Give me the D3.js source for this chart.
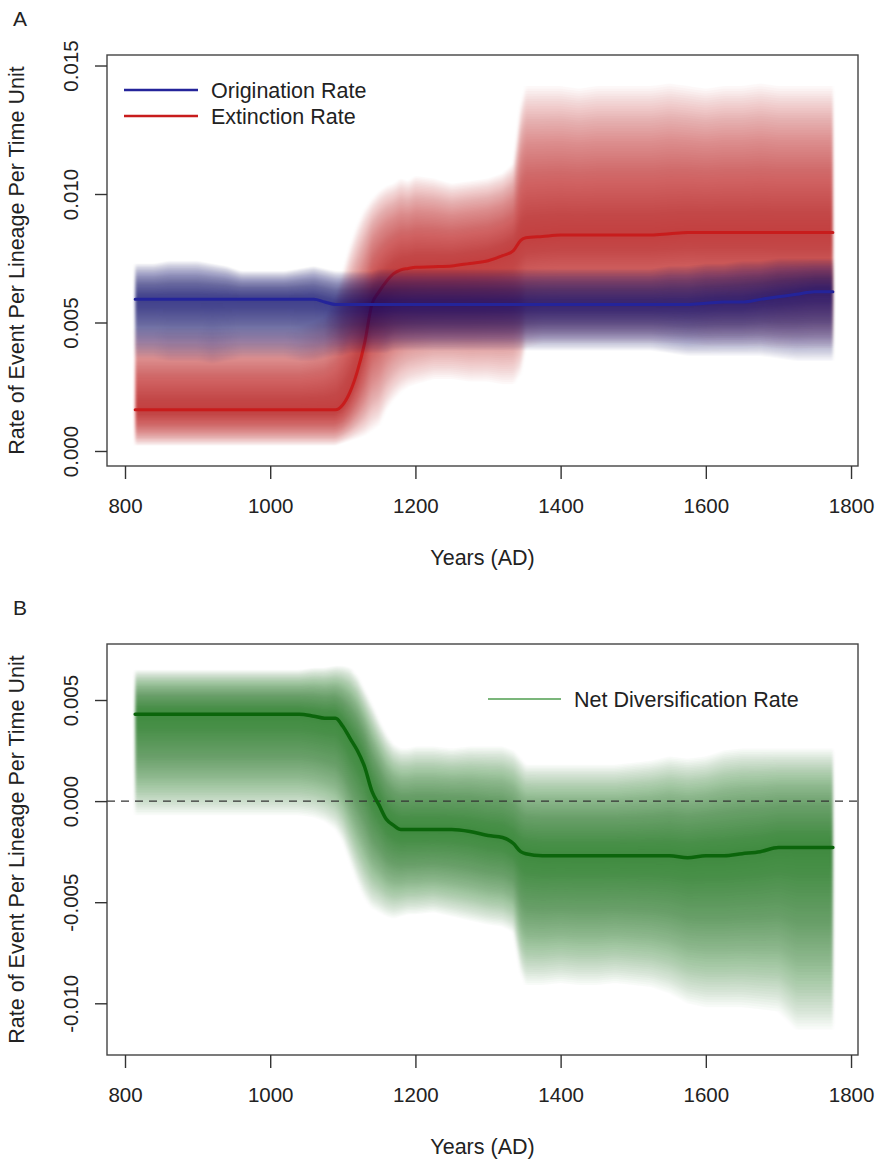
<!DOCTYPE html>
<html lang="en">
<head>
<meta charset="UTF-8">
<title>Rates through time</title>
<script src="https://d3js.org/d3.v7.min.js"></script>
<style>
  body { margin: 0; background: #fff; }
  svg { font-family: "Liberation Sans", Arial, Helvetica, sans-serif; }
</style>
</head>
<body>
<svg></svg>
<script>
// time slices (years AD)
const years = [814, 840, 860, 880, 900, 920, 940, 960, 980, 1000,
  1020, 1040, 1060, 1075, 1090, 1100, 1110, 1120, 1130, 1140,
  1150, 1160, 1170, 1180, 1190, 1200, 1225, 1250, 1275, 1300,
  1320, 1335, 1345, 1352, 1375, 1400, 1425, 1450, 1475, 1500,
  1525, 1550, 1575, 1600, 1625, 1650, 1675, 1700, 1725, 1750,
  1775];

// origination rate: median and outer interval
const origMed = [0.0059, 0.0059, 0.0059, 0.0059, 0.0059, 0.0059, 0.0059, 0.0059, 0.0059, 0.0059,
  0.0059, 0.0059, 0.0059, 0.0058, 0.0057, 0.0057, 0.0057, 0.0057, 0.0057, 0.0057,
  0.0057, 0.0057, 0.0057, 0.0057, 0.0057, 0.0057, 0.0057, 0.0057, 0.0057, 0.0057,
  0.0057, 0.0057, 0.0057, 0.0057, 0.0057, 0.0057, 0.0057, 0.0057, 0.0057, 0.0057,
  0.0057, 0.0057, 0.0057, 0.00575, 0.0058, 0.0058, 0.0059, 0.0060, 0.0061, 0.0062,
  0.0062];
const origLo = [0.0036, 0.0036, 0.0035, 0.0035, 0.0035, 0.0034, 0.0035, 0.0036, 0.0036, 0.0036,
  0.0036, 0.0035, 0.0035, 0.0036, 0.0037, 0.0037, 0.0038, 0.0038, 0.0038, 0.0038,
  0.0038, 0.0038, 0.0039, 0.0039, 0.0039, 0.0039, 0.0039, 0.0039, 0.0039, 0.0039,
  0.0039, 0.0039, 0.0039, 0.0039, 0.0039, 0.0039, 0.0039, 0.0039, 0.0039, 0.0039,
  0.0039, 0.0038, 0.0037, 0.0037, 0.0037, 0.0037, 0.0037, 0.0036, 0.0035, 0.0035,
  0.0035];
const origHi = [0.0073, 0.0073, 0.0074, 0.0074, 0.0074, 0.0073, 0.0072, 0.0070, 0.0070, 0.0070,
  0.0070, 0.0071, 0.0072, 0.0071, 0.0070, 0.0070, 0.0070, 0.0070, 0.0070, 0.0070,
  0.0071, 0.0071, 0.0071, 0.0071, 0.0071, 0.0071, 0.0071, 0.0071, 0.0071, 0.0071,
  0.0071, 0.0071, 0.0071, 0.0071, 0.0071, 0.0071, 0.0071, 0.0071, 0.0071, 0.0071,
  0.0071, 0.0072, 0.0072, 0.0073, 0.0073, 0.0074, 0.0074, 0.0075, 0.0075, 0.0075,
  0.0075];

// extinction rate
const extMed = [0.0016, 0.0016, 0.0016, 0.0016, 0.0016, 0.0016, 0.0016, 0.0016, 0.0016, 0.0016,
  0.0016, 0.0016, 0.0016, 0.0016, 0.0016, 0.0018, 0.0023, 0.0031, 0.0042, 0.0057,
  0.0062, 0.0066, 0.0069, 0.00705, 0.0071, 0.00715, 0.00717, 0.0072, 0.0073, 0.0074,
  0.0076, 0.0078, 0.0082, 0.0083, 0.00835, 0.0084, 0.0084, 0.0084, 0.0084, 0.0084,
  0.0084, 0.00845, 0.0085, 0.0085, 0.0085, 0.0085, 0.0085, 0.0085, 0.0085, 0.0085,
  0.0085];
const extLo = [0.0002, 0.0002, 0.0002, 0.0002, 0.0002, 0.0002, 0.0002, 0.0002, 0.0002, 0.0002,
  0.0002, 0.0002, 0.0002, 0.0002, 0.0002, 0.0003, 0.0004, 0.0005, 0.0006, 0.0008,
  0.0010, 0.0016, 0.0020, 0.0023, 0.0025, 0.0026, 0.0028, 0.0028, 0.0027, 0.0027,
  0.0026, 0.0026, 0.0030, 0.0040, 0.0042, 0.0042, 0.0042, 0.0042, 0.0042, 0.0042,
  0.0042, 0.0042, 0.0042, 0.0041, 0.0041, 0.0041, 0.0041, 0.0040, 0.0040, 0.0040,
  0.0040];
const extHi = [0.0048, 0.0048, 0.0048, 0.0048, 0.0048, 0.0048, 0.0048, 0.0048, 0.0048, 0.0048,
  0.0048, 0.0048, 0.0050, 0.0052, 0.0060, 0.0070, 0.0080, 0.0088, 0.0094, 0.0098,
  0.0101, 0.0103, 0.0104, 0.0106, 0.0105, 0.0107, 0.0106, 0.0104, 0.0105, 0.0106,
  0.0108, 0.0112, 0.0135, 0.0142, 0.0142, 0.0142, 0.0141, 0.0142, 0.0142, 0.0142,
  0.0142, 0.0143, 0.0142, 0.0141, 0.0142, 0.0142, 0.0143, 0.0142, 0.0142, 0.0142,
  0.0142];

// net diversification rate
const netMed = [0.0043, 0.0043, 0.0043, 0.0043, 0.0043, 0.0043, 0.0043, 0.0043, 0.0043, 0.0043,
  0.0043, 0.0043, 0.0042, 0.0041, 0.0041, 0.0037, 0.0031, 0.0025, 0.0017, 0.0005,
  -0.0002, -0.0009, -0.0012, -0.0014, -0.0014, -0.0014, -0.0014, -0.0014, -0.0015, -0.0017,
  -0.0018, -0.0021, -0.0025, -0.0026, -0.0027, -0.0027, -0.0027, -0.0027, -0.0027, -0.0027,
  -0.0027, -0.0027, -0.0028, -0.0027, -0.0027, -0.0026, -0.0025, -0.0023, -0.0023, -0.0023,
  -0.0023];
const netLo = [-0.0007, -0.0007, -0.0007, -0.0007, -0.0007, -0.0007, -0.0007, -0.0007, -0.0007, -0.0007,
  -0.0007, -0.0007, -0.0008, -0.0010, -0.0014, -0.0020, -0.0030, -0.0040, -0.0048, -0.0053,
  -0.0055, -0.0057, -0.0058, -0.0057, -0.0056, -0.0056, -0.0055, -0.0057, -0.0059, -0.0061,
  -0.0062, -0.0065, -0.0085, -0.0091, -0.0091, -0.0090, -0.0091, -0.0091, -0.0090, -0.0091,
  -0.0092, -0.0095, -0.0100, -0.0102, -0.0102, -0.0102, -0.0103, -0.0104, -0.0113, -0.0113,
  -0.0113];
const netHi = [0.0065, 0.0065, 0.0065, 0.0065, 0.0065, 0.0065, 0.0065, 0.0065, 0.0065, 0.0065,
  0.0065, 0.0065, 0.0066, 0.0066, 0.0067, 0.0067, 0.0066, 0.0062, 0.0055, 0.0048,
  0.0040, 0.0033, 0.0028, 0.0026, 0.0026, 0.0027, 0.0027, 0.0026, 0.0027, 0.0027,
  0.0027, 0.0025, 0.0021, 0.0018, 0.0018, 0.0018, 0.0018, 0.0018, 0.0018, 0.0019,
  0.0020, 0.0022, 0.0021, 0.0022, 0.0025, 0.0026, 0.0026, 0.0026, 0.0026, 0.0026,
  0.0026];

const xTicks = [800, 1000, 1200, 1400, 1600, 1800];
const yTicksA = [0, 0.005, 0.010, 0.015];
const yTicksB = [-0.010, -0.005, 0, 0.005];

const width = 877, height = 1160;
const left = 107, right = 858;
const svg = d3.select("svg").attr("width", width).attr("height", height);

// soften the slice edges a little, like the original raster
const defs = svg.append("defs");
defs.append("filter").attr("id", "soft").attr("x", "-2%").attr("width", "104%")
  .append("feGaussianBlur").attr("stdDeviation", "1.6 0.6");

const x = d3.scaleLinear().domain([775.2, 1809.6]).range([left, right]);

const panelA = { top: 55, bottom: 466 };
const panelB = { top: 644, bottom: 1055 };
const yA = d3.scaleLinear().domain([-0.000584, 0.015409]).range([panelA.bottom, panelA.top]);
const yB = d3.scaleLinear().domain([-0.012557, 0.00777]).range([panelB.bottom, panelB.top]);

const LEVELS = 60;

// stack of nested intervals -> density-like shading
function drawBand(parent, y, med, lo, hi, color, alpha) {
  const g = parent.append("g").attr("filter", "url(#soft)");
  const area = d3.area().curve(d3.curveLinear).x((d, i) => x(years[i]));
  for (let k = LEVELS; k >= 1; k--) {
    const f = k / LEVELS;
    area.y0((d, i) => y(med[i] - f * (med[i] - lo[i])))
        .y1((d, i) => y(med[i] + f * (hi[i] - med[i])));
    g.append("path")
      .datum(years)
      .attr("d", area)
      .attr("fill", color)
      .attr("fill-opacity", alpha);
  }
}

function drawLine(g, y, med, color, w) {
  const line = d3.line().curve(d3.curveMonotoneX)
    .x((d, i) => x(years[i])).y((d, i) => y(med[i]));
  g.append("path").datum(years).attr("d", line)
    .attr("fill", "none").attr("stroke", color)
    .attr("stroke-width", w).attr("stroke-linejoin", "round").attr("stroke-linecap", "round");
}

function drawFrame(p, y, yTicks, letter) {
  const g = svg.append("g");
  g.append("rect")
    .attr("x", left).attr("y", p.top)
    .attr("width", right - left).attr("height", p.bottom - p.top)
    .attr("fill", "none").attr("stroke", "#444").attr("stroke-width", 1.4);

  const gx = g.append("g").attr("transform", `translate(0,${p.bottom})`)
    .call(d3.axisBottom(x).tickValues(xTicks).tickSize(13).tickSizeOuter(0)
      .tickPadding(19.5).tickFormat(d => String(d)));
  gx.select(".domain").remove();
  gx.selectAll(".tick line").attr("stroke", "#333").attr("stroke-width", 1.4);
  gx.selectAll(".tick text").attr("font-size", 20.5).attr("fill", "#222")
    .attr("font-family", "Liberation Sans, Arial, sans-serif");

  const gy = g.append("g").attr("transform", `translate(${left},0)`)
    .call(d3.axisLeft(y).tickValues(yTicks).tickSize(12).tickSizeOuter(0).tickFormat(d => d.toFixed(3)));
  gy.select(".domain").remove();
  gy.selectAll(".tick line").attr("stroke", "#333").attr("stroke-width", 1.4);
  gy.selectAll(".tick text")
    .attr("font-size", 20.5).attr("fill", "#222")
    .attr("font-family", "Liberation Sans, Arial, sans-serif")
    .attr("x", 0).attr("y", -29.5).attr("dy", null)
    .attr("text-anchor", "middle")
    .attr("transform", "rotate(-90)");

  g.append("text")
    .attr("transform", `translate(24,${(p.top + p.bottom) / 2}) rotate(-90)`)
    .attr("text-anchor", "middle").attr("font-size", 21.5).attr("fill", "#222")
    .text("Rate of Event Per Lineage Per Time Unit");

  g.append("text")
    .attr("x", (left + right) / 2).attr("y", p.bottom + 99)
    .attr("text-anchor", "middle").attr("font-size", 21.5).attr("fill", "#222")
    .text("Years (AD)");

  g.append("text")
    .attr("x", 20).attr("y", p.top - 29)
    .attr("text-anchor", "middle").attr("font-size", 21).attr("fill", "#222")
    .text(letter);
}

// ---- Panel A ----
const gA = svg.append("g");
drawBand(gA, yA, extMed, extLo, extHi, "rgb(172,30,30)", 0.028);
drawLine(gA, yA, extMed, "#c81c1c", 3);
drawBand(gA, yA, origMed, origLo, origHi, "rgb(28,28,125)", 0.028);
drawLine(gA, yA, origMed, "#24249a", 3);
drawFrame(panelA, yA, yTicksA, "A");

const legendA = [
  { label: "Origination Rate", color: "#24249a" },
  { label: "Extinction Rate", color: "#c81c1c" }
];
const lg = svg.append("g");
legendA.forEach((d, i) => {
  const ly = 90 + i * 26;
  lg.append("line").attr("x1", 124).attr("x2", 198).attr("y1", ly).attr("y2", ly)
    .attr("stroke", d.color).attr("stroke-width", 2.6);
  lg.append("text").attr("x", 211).attr("y", ly + 7.5)
    .attr("font-size", 21.5).attr("fill", "#222").text(d.label);
});

// ---- Panel B ----
const gB = svg.append("g");
drawBand(gB, yB, netMed, netLo, netHi, "rgb(22,100,22)", 0.028);
gB.append("line")
  .attr("x1", left).attr("x2", right).attr("y1", yB(0)).attr("y2", yB(0))
  .attr("stroke", "#333").attr("stroke-width", 1.4).attr("stroke-dasharray", "8,6");
drawLine(gB, yB, netMed, "#0b650b", 3.5);
drawFrame(panelB, yB, yTicksB, "B");

const lgB = svg.append("g");
lgB.append("line").attr("x1", 488).attr("x2", 561).attr("y1", 699).attr("y2", 699)
  .attr("stroke", "#4f9e4f").attr("stroke-width", 1.6);
lgB.append("text").attr("x", 574).attr("y", 706.5)
  .attr("font-size", 21.5).attr("fill", "#222").text("Net Diversification Rate");
</script>
</body>
</html>
